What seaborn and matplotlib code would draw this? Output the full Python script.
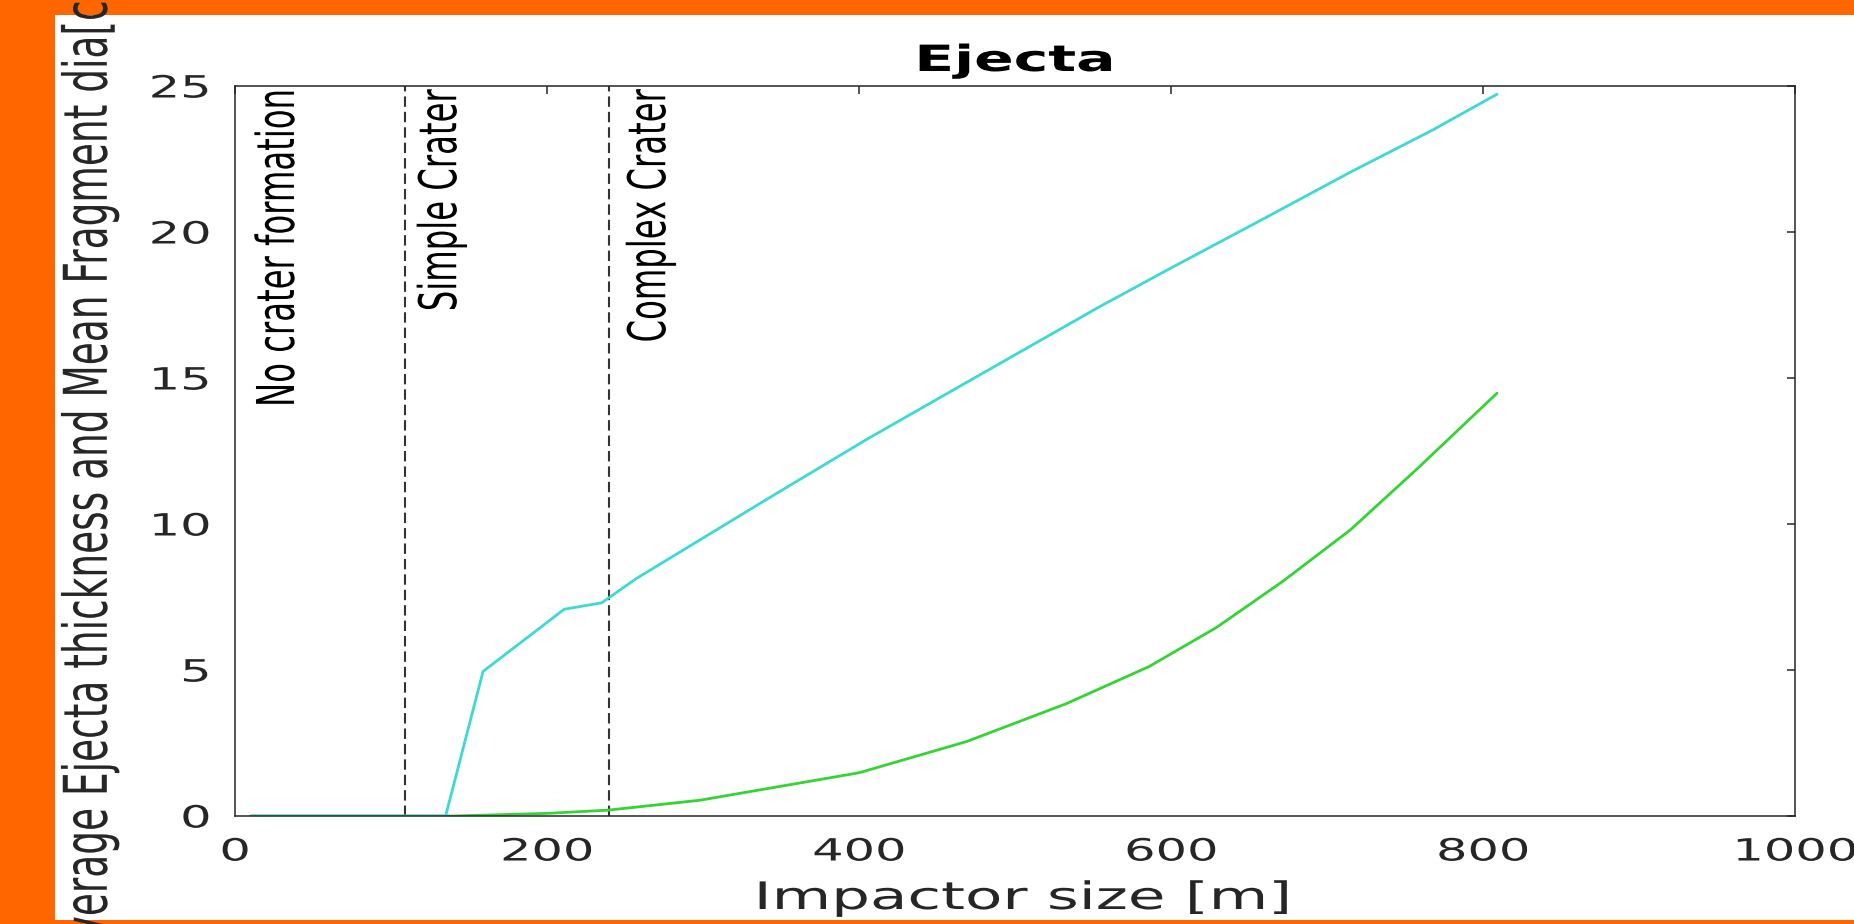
import matplotlib
matplotlib.use("Agg")
import matplotlib.pyplot as plt
import seaborn as sns
import pandas as pd
from matplotlib.patches import Rectangle
from matplotlib.patheffects import AbstractPathEffect
from matplotlib.transforms import Affine2D

# ---- data ----
impactor_size_thickness = [10, 135, 159, 211, 235, 257.5, 341, 405, 469, 554.5, 599.4, 661, 715, 768, 809]
ejecta_thickness = [0, 0, 4.95, 7.08, 7.3, 8.14, 10.85, 12.9, 14.85, 17.45, 18.75, 20.5, 22.05, 23.5, 24.72]

impactor_size_fragment = [10, 140, 200, 239, 298, 400, 469, 533, 586, 629, 672, 715, 757, 809]
fragment_diameter = [0, 0, 0.09, 0.2, 0.54, 1.48, 2.55, 3.85, 5.12, 6.45, 8.05, 9.8, 11.85, 14.48]

regime_bounds = [109, 240]
regime_labels = ["No crater formation", "Simple Crater", "Complex Crater"]
regime_label_x = [29, 133, 267]

x_ticks = [0, 200, 400, 600, 800, 1000]
y_ticks = [0, 5, 10, 15, 20, 25]

K = 0.62  # the reference image is compressed vertically: glyphs look wide


class StretchX(AbstractPathEffect):
    """Widen text glyphs horizontally around the text's anchor point."""
    def __init__(self, text, sx=1 / K):
        super().__init__()
        self.text = text
        self.sx = sx

    def draw_path(self, renderer, gc, tpath, affine, rgbFace=None):
        ax_ = self.text.get_transform().transform(self.text.get_position())[0]
        extra = Affine2D().translate(-ax_, 0).scale(self.sx, 1).translate(ax_, 0)
        renderer.draw_path(gc, tpath, affine + extra, rgbFace)


def widen(t):
    t.set_path_effects([StretchX(t)])


sns.set_theme(style="white")
plt.rcParams["font.family"] = ["DejaVu Sans"]

W, H = 1854, 924
fig = plt.figure(figsize=(W / 100, H / 100), dpi=100, facecolor="#ff6600")
fig.patches.append(Rectangle((55 / W, 4 / H), (W - 55) / W, (920 - 15) / H,
                             transform=fig.transFigure, facecolor="white",
                             edgecolor="none", zorder=-10))

ax = fig.add_axes([235 / W, 108 / H, 1560 / W, 730 / H])
ax.set_facecolor("white")

df_frag = pd.DataFrame({"size": impactor_size_fragment, "val": fragment_diameter})
df_thick = pd.DataFrame({"size": impactor_size_thickness, "val": ejecta_thickness})

sns.lineplot(data=df_frag, x="size", y="val", ax=ax, color="#33d433",
             linewidth=2.0, estimator=None)
sns.lineplot(data=df_thick, x="size", y="val", ax=ax, color="#3dd9d2",
             linewidth=2.0, estimator=None)

for b in regime_bounds:
    ax.axvline(b, color="#333333", linewidth=1.5, linestyle=(0, (5, 2.4)), zorder=1)

for lbl, xp in zip(regime_labels, regime_label_x):
    t = ax.text(xp, 24.86, lbl, rotation=90, ha="center", va="top",
                fontsize=37.5 * K, color="black")
    widen(t)

ax.set_xlim(0, 1000)
ax.set_ylim(0, 25)
ax.set_xticks(x_ticks)
ax.set_yticks(y_ticks)
ax.set_xticklabels([str(v) for v in x_ticks])
ax.set_yticklabels([str(v) for v in y_ticks])

for s in ax.spines.values():
    s.set_color("#262626")
    s.set_linewidth(1.1)
    s.set_visible(True)

ax.tick_params(direction="in", length=5.8, width=1.1, color="#262626",
               top=True, right=True, labelsize=35.6 * K, labelcolor="#262626")
ax.tick_params(axis="x", pad=15.5)
ax.tick_params(axis="y", pad=17)

for tk in ax.xaxis.get_major_ticks():
    widen(tk.label1)
for tk in ax.yaxis.get_major_ticks():
    widen(tk.label1)

title = ax.set_title("Ejecta", fontsize=42 * K, fontweight="bold", pad=10.8, color="black")
widen(title)

xl = ax.set_xlabel("Impactor size [m]", fontsize=44 * K, color="#262626")
xl.set_verticalalignment("baseline")
ax.xaxis.set_label_coords(0.505, -0.1274)
widen(xl)

yl = ax.set_ylabel("Average Ejecta thickness and Mean Fragment dia[cm]",
                   fontsize=43.5 * K, color="#262626")
ax.yaxis.set_label_coords(-0.0739, 0.494)
widen(yl)

fig.savefig("out.png", dpi=100, facecolor=fig.get_facecolor())
